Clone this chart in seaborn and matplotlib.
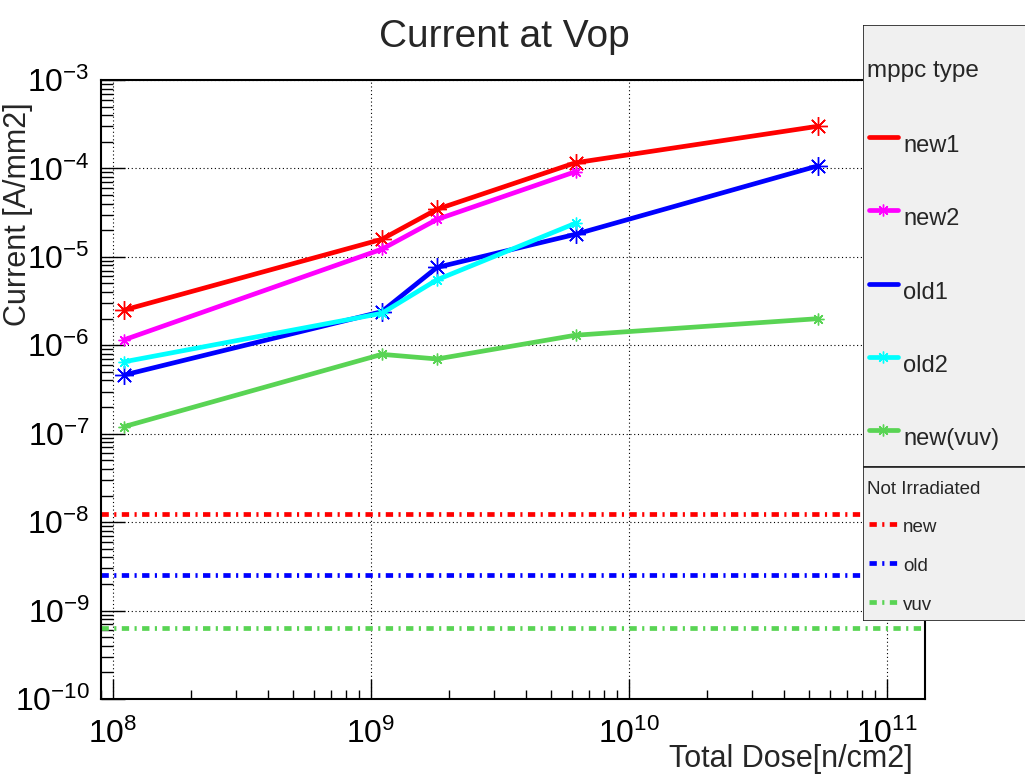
import matplotlib
matplotlib.use("Agg")
import numpy as np
import pandas as pd
import matplotlib.pyplot as plt
import matplotlib.ticker as mticker
from matplotlib.lines import Line2D
from matplotlib.patches import Rectangle
import seaborn as sns

# Total dose [n/cm2] of each irradiation step
dose_long = [1.1e8, 1.1e9, 1.8e9, 6.2e9, 5.4e10]
dose_short = [1.1e8, 1.1e9, 1.8e9, 6.2e9]

# Current at Vop [A/mm2] per MPPC type
new1 = [2.5e-6, 1.58e-5, 3.45e-5, 1.16e-4, 3.0e-4]
new2 = [1.15e-6, 1.22e-5, 2.65e-5, 9.2e-5]
old1 = [4.6e-7, 2.4e-6, 7.6e-6, 1.8e-5, 1.07e-4]
old2 = [6.5e-7, 2.3e-6, 5.5e-6, 2.4e-5]
new_vuv = [1.2e-7, 7.9e-7, 7.0e-7, 1.3e-6, 2.0e-6]

series_names = ["new1", "new2", "old1", "old2", "new(vuv)"]

# Not irradiated reference currents [A/mm2]
ref_names = ["new", "old", "vuv"]
ref_values = [1.23e-8, 2.5e-9, 6.4e-10]

sns.set_style("ticks")
plt.rcParams["font.family"] = ["Liberation Sans", "DejaVu Sans"]
plt.rcParams["mathtext.fontset"] = "custom"
plt.rcParams["mathtext.rm"] = "Liberation Sans"
plt.rcParams["mathtext.it"] = "Liberation Sans:italic"
plt.rcParams["mathtext.bf"] = "Liberation Sans:bold"

RED, MAGENTA, BLUE, CYAN, GREEN = "#ff0000", "#ff00ff", "#0000ff", "#00ffff", "#59d454"
STAR = (8, 2, 0)
LW = 3.4
DASHDOT = (0, (1.55, 1.15, 0.45, 1.15))

W, H = 1025, 775
fig = plt.figure(figsize=(W / 100, H / 100), dpi=100)
ax = fig.add_axes([101 / W, 1 - 699 / H, 824 / W, 619 / H])
ax.set_xscale("log")
ax.set_yscale("log")

styles = [
    (series_names[0], dose_long, new1, RED, 13.5, False),
    (series_names[1], dose_short, new2, MAGENTA, 8.5, True),
    (series_names[2], dose_long, old1, BLUE, 13.5, False),
    (series_names[3], dose_short, old2, CYAN, 8.5, True),
    (series_names[4], dose_long, new_vuv, GREEN, 8.5, True),
]

for name, xs, ys, color, ms, _ in styles:
    df = pd.DataFrame({"dose": xs, "current": ys})
    sns.lineplot(data=df, x="dose", y="current", ax=ax, color=color,
                 linewidth=LW, marker=STAR, markersize=ms,
                 markeredgewidth=1.0, markeredgecolor=color,
                 errorbar=None, legend=False)

ref_colors = [RED, BLUE, GREEN]
for val, color in zip(ref_values, ref_colors):
    ax.axhline(val, color=color, linewidth=LW, linestyle=DASHDOT)

ax.set_xlim(10 ** 7.953, 10 ** 11.147)
ax.set_ylim(1e-10, 1e-3)
ax.set_xlabel("")
ax.set_ylabel("")

# decade grid, dotted
ax.grid(which="major", color="black", linestyle=(0, (1, 2.4)), linewidth=0.8)
ax.set_axisbelow(True)

for axis in (ax.xaxis, ax.yaxis):
    axis.set_major_locator(mticker.LogLocator(base=10, numticks=20))
    axis.set_minor_locator(mticker.LogLocator(base=10, subs=np.arange(2, 10), numticks=100))
    axis.set_minor_formatter(mticker.NullFormatter())
    axis.set_major_formatter(mticker.FuncFormatter(
        lambda v, p: r"$\mathregular{10^{%d}}$" % int(round(np.log10(v)))))

ax.tick_params(axis="both", which="both", direction="in", top=False, right=False,
               colors="black")
ax.tick_params(axis="y", which="major", length=17, width=1, labelsize=23, pad=8)
ax.tick_params(axis="y", which="minor", length=8.5, width=1)
ax.tick_params(axis="x", which="major", length=14.5, width=1, labelsize=23, pad=14)
ax.tick_params(axis="x", which="minor", length=6.5, width=1)
for sp in ax.spines.values():
    sp.set_visible(True)
    sp.set_linewidth(1.5)
    sp.set_color("black")

fig.text(504 / W, 1 - 47 / H, "Current at Vop", ha="center", va="baseline", fontsize=28)
fig.text(18 / W, 1 - 102 / H, "Current [A/mm2]", rotation=90, ha="center", va="top",
         fontsize=22)
fig.text(913 / W, 1 - 767 / H, "Total Dose[n/cm2]", ha="right", va="baseline",
         fontsize=22)

# legend panel, in pixel units
lax = fig.add_axes([863 / W, 1 - 621 / H, 200 / W, 596 / H])
lax.set_xlim(863, 1063)
lax.set_ylim(621, 25)
lax.axis("off")
lax.add_patch(Rectangle((863, 25), 200, 442, facecolor="#f0f0f0", edgecolor="#222222",
                        linewidth=1.2))
lax.add_patch(Rectangle((863, 467), 200, 154, facecolor="#f0f0f0", edgecolor="#222222",
                        linewidth=1.2))

lax.text(867, 77, "mppc type", fontsize=17.5, va="baseline", ha="left")
for i, (name, xs, ys, color, ms, show_marker) in enumerate(styles):
    y = 137 + 73.3 * i
    lax.add_line(Line2D([869, 898], [y, y], color=color, linewidth=LW))
    if show_marker:
        lax.add_line(Line2D([883.5], [y], color=color, marker=STAR, markersize=ms,
                            markeredgewidth=1.0, linestyle="none"))
    lax.text(903, y + 15, name, fontsize=17, va="baseline", ha="left")

lax.text(867, 494, "Not Irradiated", fontsize=13.5, va="baseline", ha="left")
for i, (name, color) in enumerate(zip(ref_names, ref_colors)):
    y = 524 + 39 * i
    lax.add_line(Line2D([869, 898], [y, y], color=color, linewidth=LW, linestyle=DASHDOT))
    lax.text(903, y + 8, name, fontsize=13.5, va="baseline", ha="left")

fig.savefig("out.png", dpi=100)
